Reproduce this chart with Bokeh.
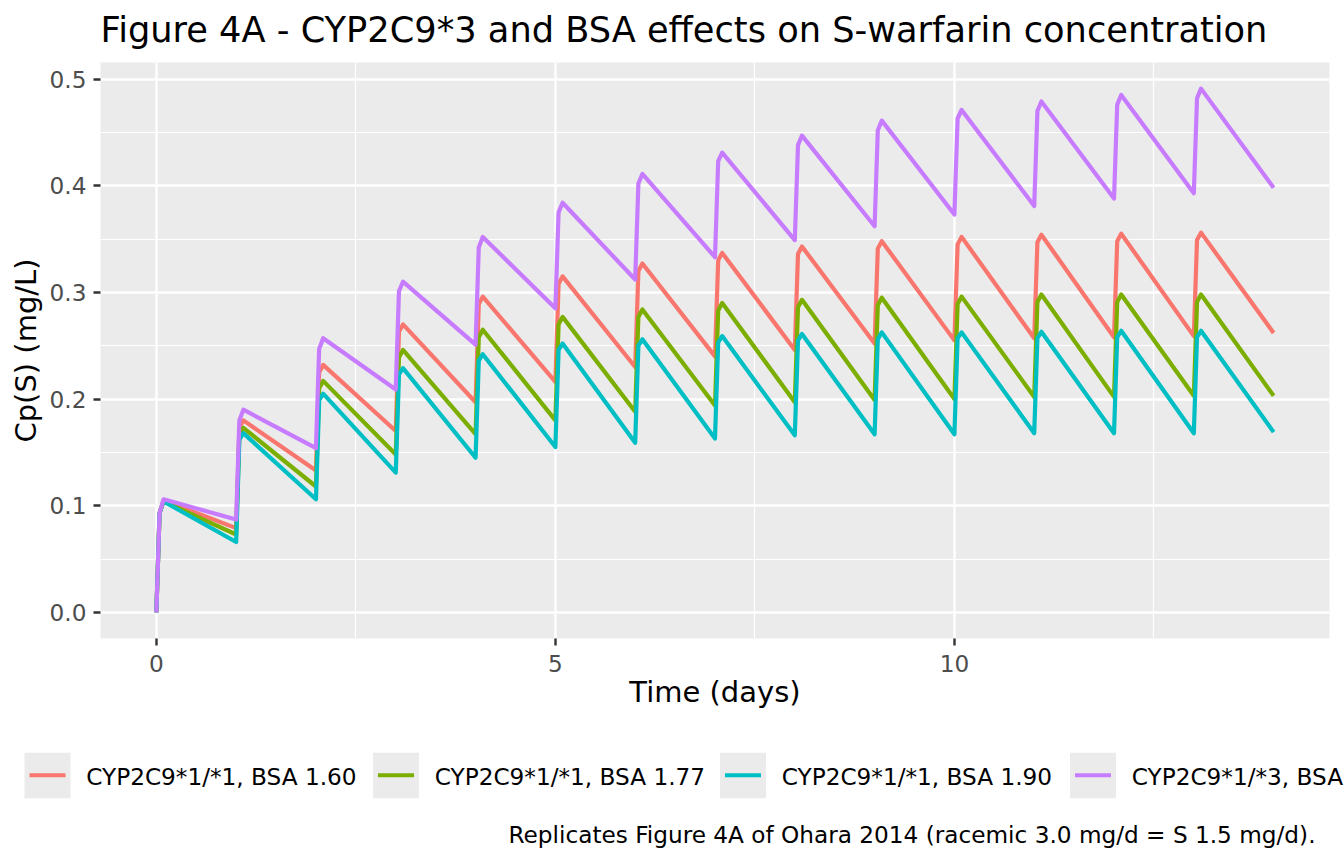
from bokeh.plotting import figure
from bokeh.models import Range1d, FixedTicker, PrintfTickFormatter
from bokeh.core.properties import value
from bokeh.embed import file_html
from bokeh.resources import INLINE

FONT = "DejaVu Sans"

# ---------------- data ----------------
series_names = [
    "CYP2C9*1/*1, BSA 1.60",
    "CYP2C9*1/*1, BSA 1.77",
    "CYP2C9*1/*1, BSA 1.90",
    "CYP2C9*1/*3, BSA",
]
series_colors = ["#F8766D", "#7CAE00", "#00BFC4", "#C77CFF"]

dose_days = list(range(14))          # daily dose at t = 0 .. 13
end_day = 14
rise_t = 0.04                        # sample time after dose (steep rise)
peak_t = 0.09                        # sample time of the peak after dose

# concentration just before each dose (t = 0..13) and at t = 14
trough_160 = [0.0, 0.079, 0.133, 0.170, 0.197, 0.216, 0.230, 0.240, 0.246, 0.252, 0.255, 0.257, 0.258, 0.259, 0.262]
trough_177 = [0.0, 0.073, 0.118, 0.148, 0.167, 0.180, 0.188, 0.194, 0.197, 0.199, 0.200, 0.202, 0.202, 0.203, 0.203]
trough_190 = [0.0, 0.066, 0.106, 0.131, 0.145, 0.155, 0.159, 0.163, 0.166, 0.167, 0.167, 0.168, 0.168, 0.168, 0.169]
trough_s3 = [0.0, 0.087, 0.154, 0.209, 0.251, 0.285, 0.312, 0.333, 0.349, 0.362, 0.373, 0.381, 0.388, 0.393, 0.398]

# value shortly after each dose (during the rise)
rise_160 = [0.093, 0.173, 0.225, 0.263, 0.289, 0.308, 0.320, 0.330, 0.336, 0.341, 0.345, 0.347, 0.348, 0.349]
rise_177 = [0.093, 0.166, 0.210, 0.239, 0.258, 0.270, 0.277, 0.283, 0.286, 0.288, 0.289, 0.291, 0.291, 0.291]
rise_190 = [0.093, 0.162, 0.199, 0.223, 0.236, 0.246, 0.250, 0.253, 0.255, 0.256, 0.257, 0.257, 0.258, 0.258]
rise_s3 = [0.093, 0.180, 0.247, 0.301, 0.342, 0.375, 0.402, 0.423, 0.438, 0.452, 0.463, 0.470, 0.476, 0.482]

# peak value after each dose
peak_160 = [0.105, 0.180, 0.232, 0.270, 0.296, 0.315, 0.327, 0.337, 0.343, 0.348, 0.352, 0.354, 0.355, 0.356]
peak_177 = [0.104, 0.173, 0.217, 0.246, 0.265, 0.277, 0.284, 0.290, 0.293, 0.295, 0.296, 0.298, 0.298, 0.298]
peak_190 = [0.104, 0.168, 0.205, 0.229, 0.242, 0.252, 0.256, 0.259, 0.261, 0.2625, 0.2625, 0.263, 0.264, 0.264]
peak_s3 = [0.106, 0.190, 0.257, 0.310, 0.352, 0.384, 0.411, 0.431, 0.447, 0.461, 0.471, 0.479, 0.485, 0.491]

troughs = [trough_160, trough_177, trough_190, trough_s3]
rises = [rise_160, rise_177, rise_190, rise_s3]
peaks = [peak_160, peak_177, peak_190, peak_s3]

x_ticks = [0, 5, 10]
x_minor = [2.5, 7.5, 12.5]
y_ticks = [0.0, 0.1, 0.2, 0.3, 0.4, 0.5]
y_minor = [0.05, 0.15, 0.25, 0.35, 0.45]

title_text = "Figure 4A - CYP2C9*3 and BSA effects on S-warfarin concentration"
x_label = "Time (days)"
y_label = "Cp(S) (mg/L)"
caption = "Replicates Figure 4A of Ohara 2014 (racemic 3.0 mg/d = S 1.5 mg/d)."

W = 1344
H0, H1 = 62, 656
H2 = 864 - H0 - H1


def strip(height):
    f = figure(width=W, height=height, output_backend="svg", toolbar_location=None,
               x_range=Range1d(0, W), y_range=Range1d(height, 0),
               x_axis_type=None, y_axis_type=None, title=None,
               min_border_left=0, min_border_right=0, min_border_top=0, min_border_bottom=0)
    f.outline_line_color = None
    f.background_fill_color = "white"
    f.border_fill_color = "white"
    f.xgrid.visible = False
    f.ygrid.visible = False
    return f


# ---------------- title strip ----------------
t = strip(H0)
t.text(x=[100], y=[29], text=[title_text], text_font=value(FONT),
       text_font_size="35.2px", text_color="black",
       text_baseline="middle", text_align="left")

# ---------------- main plot ----------------
p = figure(width=W, height=H1, output_backend="svg", toolbar_location=None, title=None,
           x_range=Range1d(-0.7, 14.7), y_range=Range1d(-0.0245, 0.5155),
           min_border_left=100, min_border_right=15, min_border_top=0, min_border_bottom=80)

p.background_fill_color = "#EBEBEB"
p.border_fill_color = "white"
p.outline_line_color = None

p.xaxis.ticker = FixedTicker(ticks=x_ticks, minor_ticks=x_minor)
p.yaxis.ticker = FixedTicker(ticks=y_ticks, minor_ticks=y_minor)
p.yaxis.formatter = PrintfTickFormatter(format="%.1f")
p.xaxis.axis_label = x_label
p.yaxis.axis_label = y_label

for ax in (p.xaxis, p.yaxis):
    ax.axis_line_color = None
    ax.major_tick_line_color = "#333333"
    ax.major_tick_line_width = 2.4
    ax.major_tick_out = 7
    ax.major_tick_in = 0
    ax.minor_tick_out = 0
    ax.minor_tick_in = 0
    ax.major_label_text_font = FONT
    ax.major_label_text_font_size = "23.2px"
    ax.major_label_text_color = "#4D4D4D"
    ax.axis_label_text_font = FONT
    ax.axis_label_text_font_size = "29px"
    ax.axis_label_text_font_style = "normal"
    ax.axis_label_text_color = "black"

p.xaxis.major_label_standoff = 9
p.xaxis.axis_label_standoff = 0
p.yaxis.major_label_standoff = 7
p.yaxis.axis_label_standoff = 4

for g in (p.xgrid, p.ygrid):
    g.grid_line_color = "white"
    g.grid_line_width = 2.4
    g.minor_grid_line_color = "white"
    g.minor_grid_line_width = 1.2

for name, color, tr, ri, pk in zip(series_names, series_colors, troughs, rises, peaks):
    xs, ys = [], []
    for i, d in enumerate(dose_days):
        xs += [d, d + rise_t, d + peak_t]
        ys += [tr[i], ri[i], pk[i]]
    xs.append(end_day)
    ys.append(tr[-1])
    p.line(xs, ys, line_color=color, line_width=4.2, line_join="round")

# ---------------- legend + caption strip ----------------
q = strip(H2)
key_left = [24, 372.5, 719.5, 1069.5]
key_w, key_top, key_bot = 46, 34.3, 79.7
q.quad(left=key_left, right=[k + key_w for k in key_left],
       top=[key_top] * 4, bottom=[key_bot] * 4, fill_color="#EBEBEB", line_color=None)
q.segment(x0=[k + 5 for k in key_left], x1=[k + key_w - 5 for k in key_left],
          y0=[56.7] * 4, y1=[56.7] * 4, line_color=series_colors, line_width=4)
q.text(x=[k + 61.7 for k in key_left], y=[58] * 4, text=series_names,
       text_font=value(FONT), text_font_size="23.2px", text_color="black",
       text_baseline="middle", text_align="left")
q.text(x=[1315], y=[115.5], text=[caption],
       text_font=value(FONT), text_font_size="23.2px", text_color="black",
       text_baseline="middle", text_align="right")

open("out.html", "w").write(file_html([t, p, q], INLINE))
